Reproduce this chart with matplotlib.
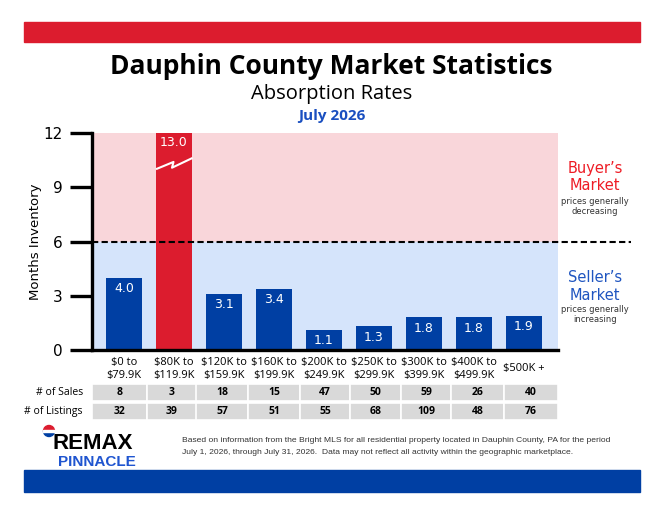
import matplotlib
matplotlib.use("Agg")
import matplotlib.pyplot as plt
from matplotlib.patches import Rectangle, Wedge
import matplotlib.transforms as mtransforms

# data
categories = ["$0 to\n$79.9K", "$80K to\n$119.9K", "$120K to\n$159.9K", "$160K to\n$199.9K",
              "$200K to\n$249.9K", "$250K to\n$299.9K", "$300K to\n$399.9K", "$400K to\n$499.9K",
              "$500K +"]
months = [4.0, 13.0, 3.1, 3.4, 1.1, 1.3, 1.8, 1.8, 1.9]
sales = [8, 3, 18, 15, 47, 50, 59, 26, 40]
listings = [32, 39, 57, 51, 55, 68, 109, 48, 76]
yticks = [0, 3, 6, 9, 12]

W, H = 663, 512
RED = "#dc1c2e"
BLUE = "#003fa3"
PINK = "#f9d6da"
LBLUE = "#d5e4fb"
GREY = "#d9d9d9"

def fx(px):
    return px / W

def fy(py):
    return 1 - py / H

fig = plt.figure(figsize=(W / 100, H / 100), dpi=100)
fig.patch.set_facecolor("white")

# header / footer bands
fig.patches.append(Rectangle((fx(24), fy(42)), fx(640) - fx(24), fy(22) - fy(42),
                             transform=fig.transFigure, color=RED))
fig.patches.append(Rectangle((fx(24), fy(492)), fx(640) - fx(24), fy(470) - fy(492),
                             transform=fig.transFigure, color=BLUE))

fig.text(0.5, fy(67), "Dauphin County Market Statistics", ha="center", va="center",
         fontsize=19, fontweight="bold", family="Open Sans")
fig.text(0.5, fy(94), "Absorption Rates", ha="center", va="center",
         fontsize=14.5, family="Open Sans")
fig.text(0.5, fy(116), "July 2026", ha="center", va="center", fontsize=11,
         fontweight="bold", family="Open Sans", color="#1a4fc0")

# main chart
left, right, top, bottom = 92, 558, 133, 350
ax = fig.add_axes([fx(left), fy(bottom), fx(right) - fx(left), fy(top) - fy(bottom)])
x = list(range(len(categories)))
ax.set_xlim(-0.64, 8.68)
ax.set_ylim(0, 12)
ax.axhspan(6, 12, color=PINK, zorder=0)
ax.axhspan(0, 6, color=LBLUE, zorder=0)
colors = [RED if v > 6 else BLUE for v in months]
ax.bar(x, months, width=0.72, color=colors, zorder=2)

for i, v in enumerate(months):
    if v > 12:
        ax.text(i, 11.45, f"{v:.1f}", ha="center", va="center", color="white",
                fontsize=9, zorder=4)
        ax.plot([i - 0.36, i - 0.01, i - 0.04, i + 0.37], [10.0, 10.4, 10.08, 10.62],
                color="white", lw=1.5, zorder=4, solid_capstyle="butt")
    else:
        ax.text(i, v - 0.6, f"{v:.1f}", ha="center", va="center", color="white",
                fontsize=9, zorder=4)

trans = mtransforms.blended_transform_factory(ax.transAxes, ax.transData)
ax.plot([0, (631 - left) / (right - left)], [6, 6], transform=trans, color="black",
        lw=1.5, ls=(0, (3, 1.6)), clip_on=False, zorder=3)

for s in ["top", "right"]:
    ax.spines[s].set_visible(False)
for s in ["left", "bottom"]:
    ax.spines[s].set_linewidth(2.4)
ax.set_xticks([])
ax.set_yticks(yticks)
ax.tick_params(axis="y", length=16, width=2.4, pad=5, labelsize=11)
ax.set_ylabel("Months Inventory", fontsize=9.5, labelpad=6)
ax.yaxis.set_label_coords(fx(42 - left) / (fx(right) - fx(left)), 0.5)

# right side notes
fig.text(fx(595), fy(168), "Buyer\u2019s", ha="center", va="center", fontsize=10.5, color="#ee1c25")
fig.text(fx(595), fy(186), "Market", ha="center", va="center", fontsize=10.5, color="#ee1c25")
fig.text(fx(595), fy(201), "prices generally", ha="center", va="center", fontsize=6, color="#333333")
fig.text(fx(595), fy(211), "decreasing", ha="center", va="center", fontsize=6, color="#333333")
fig.text(fx(595), fy(277), "Seller\u2019s", ha="center", va="center", fontsize=10.5, color="#1f55c0")
fig.text(fx(595), fy(295), "Market", ha="center", va="center", fontsize=10.5, color="#1f55c0")
fig.text(fx(595), fy(309), "prices generally", ha="center", va="center", fontsize=6, color="#333333")
fig.text(fx(595), fy(320), "increasing", ha="center", va="center", fontsize=6, color="#333333")

# table under the chart
t0, t1 = 352, 422
tax = fig.add_axes([fx(left), fy(t1), fx(right) - fx(left), fy(t0) - fy(t1)])
tax.set_xlim(-0.64, 8.68)
tax.set_ylim(t1 - t0, 0)
tax.axis("off")
edges = [-0.64, 0.46, 1.45, 2.49, 3.52, 4.53, 5.54, 6.54, 7.6, 8.68]
rows = [(sales, 384 - t0, 401 - t0), (listings, 403 - t0, 420 - t0)]
for vals, ya, yb in rows:
    for i, v in enumerate(vals):
        tax.add_patch(Rectangle((edges[i], ya), edges[i + 1] - edges[i], yb - ya,
                                facecolor=GREY, edgecolor="white", lw=1.2, clip_on=False))
        tax.text((edges[i] + edges[i + 1]) / 2, (ya + yb) / 2, str(v), ha="center",
                 va="center", fontsize=7.5, fontweight="bold", family="Open Sans")
for i, c in enumerate(categories):
    tax.text(i, 17, c, ha="center", va="center", fontsize=8, family="Open Sans",
             linespacing=1.2)

fig.text(fx(83), fy(392.5), "# of Sales", ha="right", va="center", fontsize=7.5, family="Open Sans")
fig.text(fx(83), fy(411.5), "# of Listings", ha="right", va="center", fontsize=7.5, family="Open Sans")

# logo
ax_logo = fig.add_axes([0, 0, 1, 1], zorder=-1)
ax_logo.set_xlim(0, W)
ax_logo.set_ylim(H, 0)
ax_logo.axis("off")
ax_logo.add_patch(Wedge((49, 431), 5.5, 180, 360, color="#dc1c2e"))
ax_logo.add_patch(Wedge((49, 431), 5.5, 0, 180, color="#003fa3"))
ax_logo.add_patch(Rectangle((43, 430), 12, 2, color="white"))
fig.text(fx(53), fy(443.5), "REMAX", ha="left", va="center", fontsize=16, fontweight="heavy",
         family="Liberation Sans", color="black")
fig.text(fx(97), fy(462), "PINNACLE", ha="center", va="center", fontsize=11, fontweight="bold",
         family="Liberation Sans", color="#1f55d0")

fig.text(fx(182), fy(441), "Based on information from the Bright MLS for all residential property "
         "located in Dauphin County, PA for the period", ha="left", va="center", fontsize=6.1,
         family=["Liberation Sans Narrow", "Liberation Sans"], color="#333333")
fig.text(fx(182), fy(453), "July 1, 2026, through July 31, 2026.  Data may not reflect all activity "
         "within the geographic marketplace.", ha="left", va="center", fontsize=6.1,
         family=["Liberation Sans Narrow", "Liberation Sans"], color="#333333")

fig.savefig("out.png", dpi=100, facecolor="white")
